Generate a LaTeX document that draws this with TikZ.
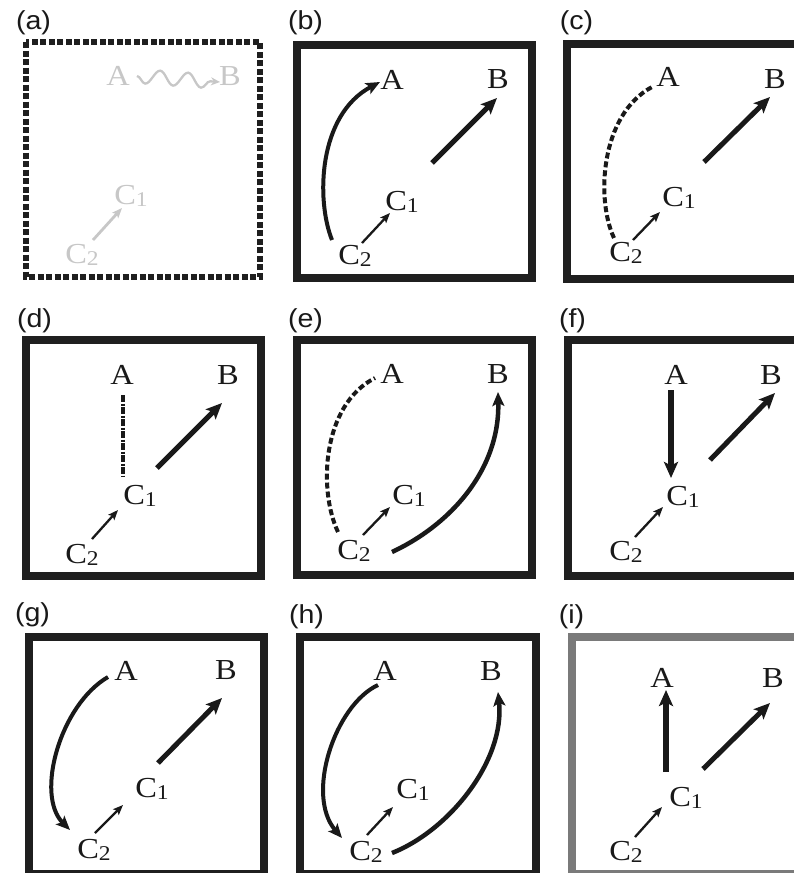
\documentclass[tikz,border=0pt]{standalone}
\usepackage{fontspec}
\setmainfont{Liberation Serif}[FakeStretch=1.12]
\newfontfamily\labfont{Liberation Sans}[FakeStretch=1.1]
\usetikzlibrary{arrows.meta,calc,decorations.pathmorphing}
\newcommand\Csub[1]{C\raisebox{-0.08em}{\fontsize{21}{22}\selectfont #1}}
\begin{document}
\begin{tikzpicture}[x=1pt,y=-1pt,
  var/.style={inner sep=0pt, font=\fontsize{29}{32}\selectfont, text=black!90},
  faint/.style={var, text=black!22},
  plabel/.style={inner sep=0pt, font=\labfont\fontsize{26}{30}\selectfont, text=black!90},
  frame/.style={draw=black!88, line width=8pt},
  gframe/.style={draw=black!52, line width=8pt},
  dframe/.style={draw=black!88, line width=6pt, dash pattern=on 6pt off 2.5pt},
  thinarr/.style={draw=black!90, line width=2.3pt, -{Stealth[length=10pt,width=8pt,inset=2pt]}},
  thickarr/.style={draw=black!90, line width=5pt, -{Stealth[length=16pt,width=14pt,inset=3.5pt]}},
  curvearr/.style={draw=black!90, line width=4pt, -{Stealth[length=14pt,width=12pt,inset=3pt]}},
  dashcurve/.style={draw=black!90, line width=4pt, dash pattern=on 6pt off 3pt},
  dashdot/.style={draw=black!90, line width=4.5pt, dash pattern=on 7pt off 1.5pt on 2pt off 1.5pt},
]
\useasboundingbox (0,0) rectangle (794,873);
\clip (0,0) rectangle (794,873);

% ---------- (a)
\node[plabel] (la) at (33.5,22.5) {(a)};
\draw[dframe] (26,42) rectangle (260,277);
\node[faint] (aA) at (118,76) {A};
\node[faint] (aB) at (230,76) {B};
\node[faint] (aC1) at (131,196) {\Csub{1}};
\node[faint] (aC2) at (82,255) {\Csub{2}};
\draw[black!22, line width=2.3pt, decorate,
      decoration={snake, segment length=28pt, amplitude=7pt, post length=9pt, mirror},
      -{Stealth[length=9pt,width=8pt]}] ($(aA)+(19,0)$) -- ($(aB)+(-10,6)$);
\draw[black!22, line width=2.8pt, -{Stealth[length=10pt,width=8pt,inset=2pt]}] ($(aC2)+(11,-15)$) -- ($(aC1)+(-9,12)$);

% ---------- (b)
\node[plabel] (lb) at (305.5,22.5) {(b)};
\draw[frame] (297,45) rectangle (532,278);
\node[var] (bA) at (392,80) {A};
\node[var] (bB) at (498,79) {B};
\node[var] (bC1) at (402,202) {\Csub{1}};
\node[var] (bC2) at (355,256) {\Csub{2}};
\draw[thinarr] ($(bC2)+(7,-13)$) -- ($(bC1)+(-12,11)$);
\draw[curvearr] ($(bC2)+(-23,-16)$) .. controls (316,200) and (318,115) .. ($(bA)+(-12,2)$);
\draw[thickarr] ($(bC1)+(30,-39)$) -- ($(bB)+(-1,19)$);

% ---------- (c)
\node[plabel] (lc) at (576.5,22.5) {(c)};
\draw[frame] (567,44) rectangle (802,279);
\node[var] (cA) at (668,77) {A};
\node[var] (cB) at (775,79) {B};
\node[var] (cC1) at (679,198) {\Csub{1}};
\node[var] (cC2) at (626,253) {\Csub{2}};
\draw[dashcurve] ($(cC2)+(-12,-15)$) .. controls (596,200) and (600,115) .. ($(cA)+(-16,10)$);
\draw[thinarr] ($(cC2)+(7,-13)$) -- ($(cC1)+(-19,14)$);
\draw[thickarr] ($(cC1)+(25,-36)$) -- ($(cB)+(-5,18)$);

% ---------- (d)
\node[plabel] (ld) at (34.5,321) {(d)};
\draw[frame] (26,340) rectangle (261,576);
\node[var] (dA) at (122,375) {A};
\node[var] (dB) at (228,375) {B};
\node[var] (dC1) at (140,496) {\Csub{1}};
\node[var] (dC2) at (82,555) {\Csub{2}};
\draw[dashdot] ($(dA)+(1,20)$) -- ($(dC1)+(-17,-19)$);
\draw[thickarr] ($(dC1)+(17,-28)$) -- ($(dB)+(-6,28)$);
\draw[thinarr] ($(dC2)+(10,-16)$) -- ($(dC1)+(-22,14)$);

% ---------- (e)
\node[plabel] (le) at (305.5,321) {(e)};
\draw[frame] (297,340) rectangle (532,575);
\node[var] (eA) at (392,374) {A};
\node[var] (eB) at (498,374) {B};
\node[var] (eC1) at (409,496) {\Csub{1}};
\node[var] (eC2) at (354,551) {\Csub{2}};
\draw[dashcurve] ($(eC2)+(-16,-19)$) .. controls (318,490) and (322,405) .. ($(eA)+(-17,4)$);
\draw[curvearr, line width=4.5pt] ($(eC2)+(38,1)$) .. controls (450,525) and (500,470) .. ($(eB)+(0,18)$);
\draw[thinarr] ($(eC2)+(9,-16)$) -- ($(eC1)+(-19,11)$);

% ---------- (f)
\node[plabel] (lf) at (572.5,321) {(f)};
\draw[frame] (568,340) rectangle (803,576);
\node[var] (fA) at (676,375) {A};
\node[var] (fB) at (771,375) {B};
\node[var] (fC1) at (683,497) {\Csub{1}};
\node[var] (fC2) at (626,552) {\Csub{2}};
\draw[thickarr, line width=5.5pt] ($(fA)+(-5,15)$) -- ($(fC1)+(-12,-19)$);
\draw[thickarr] ($(fC1)+(27,-37)$) -- ($(fB)+(4,18)$);
\draw[thinarr] ($(fC2)+(9,-15)$) -- ($(fC1)+(-20,10)$);

% ---------- (g)
\node[plabel] (lg) at (32.5,614.5) {(g)};
\draw[frame] (29,637) rectangle (264,874);
\node[var] (gA) at (126,671) {A};
\node[var] (gB) at (226,670) {B};
\node[var] (gC1) at (152,789) {\Csub{1}};
\node[var] (gC2) at (94,850) {\Csub{2}};
\draw[curvearr] ($(gA)+(-18,6)$) .. controls (60,705) and (35,795) .. ($(gC2)+(-24,-20)$);
\draw[thinarr] ($(gC2)+(1,-17)$) -- ($(gC1)+(-29,16)$);
\draw[thickarr] ($(gC1)+(6,-26)$) -- ($(gB)+(-4,28)$);

% ---------- (h)
\node[plabel] (lh) at (306.5,617) {(h)};
\draw[frame] (300,637) rectangle (536,874);
\node[var] (hA) at (385,671) {A};
\node[var] (hB) at (491,671) {B};
\node[var] (hC1) at (413,790) {\Csub{1}};
\node[var] (hC2) at (366,852) {\Csub{2}};
\draw[curvearr] ($(hA)+(-7,14)$) .. controls (335,705) and (305,795) .. ($(hC2)+(-24,-14)$);
\draw[curvearr, line width=4.5pt] ($(hC2)+(26,1)$) .. controls (450,830) and (505,760) .. ($(hB)+(7,21)$);
\draw[thinarr] ($(hC2)+(1,-17)$) -- ($(hC1)+(-20,17)$);

% ---------- (i)
\node[plabel] (li) at (571.5,617) {(i)};
\draw[gframe] (572,637) rectangle (807,874);
\node[var] (iA) at (662,678) {A};
\node[var] (iB) at (773,678) {B};
\node[var] (iC1) at (686,798) {\Csub{1}};
\node[var] (iC2) at (626,852) {\Csub{2}};
\draw[thickarr, line width=5.5pt] ($(iC1)+(-20,-26)$) -- ($(iA)+(4,12)$);
\draw[thickarr] ($(iC1)+(17,-29)$) -- ($(iB)+(-3,25)$);
\draw[thinarr] ($(iC2)+(9,-15)$) -- ($(iC1)+(-24,9)$);
\end{tikzpicture}
\end{document}
